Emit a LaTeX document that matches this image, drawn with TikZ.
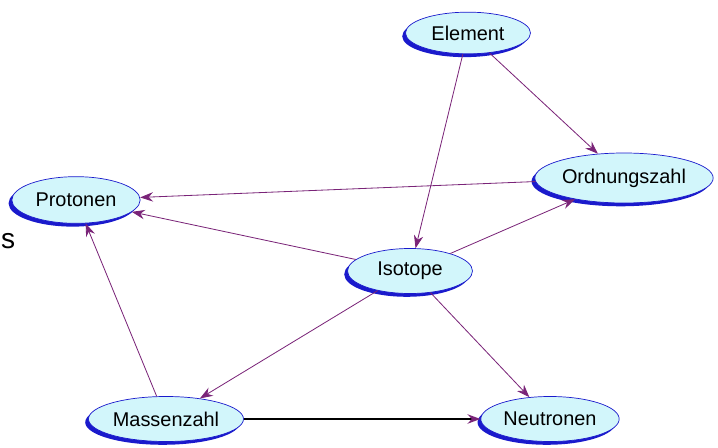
\documentclass[tikz,border=0pt]{standalone}
\usepackage{fontspec}
\setmainfont{Liberation Sans}
\usetikzlibrary{shapes.geometric,shadows,arrows.meta}

\definecolor{conceptfill}{HTML}{D2F6FB}
\definecolor{conceptblue}{HTML}{1A1ACC}
\definecolor{linkpurple}{HTML}{7A2478}

\tikzset{
  concept/.style={ellipse, draw=conceptblue, line width=0.6pt, fill=conceptfill,
    inner sep=0pt, font=\fontsize{17}{20}\selectfont,
    general shadow={fill=conceptblue, shadow xshift=-2.8pt, shadow yshift=-2.8pt}},
  link/.style={draw=linkpurple, line width=0.7pt, -{Stealth[length=11pt,width=8pt]}}
}

\begin{document}
\begin{tikzpicture}[x=0.03cm, y=-0.03cm]
\useasboundingbox (0,0) rectangle (718,448);
\node[name=element, concept, minimum width=3.75cm, minimum height=1.25cm] at (468,33) {Element};
\node[name=protonen, concept, minimum width=3.85cm, minimum height=1.4cm] at (76,200) {Protonen};
\node[name=ordnung, concept, minimum width=5.35cm, minimum height=1.5cm] at (624,178) {Ordnungszahl};
\node[name=isotope, concept, minimum width=3.75cm, minimum height=1.35cm] at (410,271) {Isotope};
\node[name=massen, concept, minimum width=4.65cm, minimum height=1.35cm] at (166,419) {Massenzahl};
\node[name=neutronen, concept, minimum width=4.15cm, minimum height=1.35cm] at (550,419) {Neutronen};
\node[name=rest, anchor=west, inner sep=0pt, font=\fontsize{24}{28}\selectfont] at (1,241) {s};
\foreach \from/\to in {element/isotope, element/ordnung, ordnung/protonen, isotope/protonen,
  isotope/ordnung, isotope/massen, isotope/neutronen, massen/protonen}
\draw[link] (\from) -- (\to);
\draw[link, draw=black, line width=1.4pt, -{Stealth[length=11pt,width=8pt,fill=linkpurple,color=linkpurple]}] (massen) -- (neutronen);
\end{tikzpicture}
\end{document}
